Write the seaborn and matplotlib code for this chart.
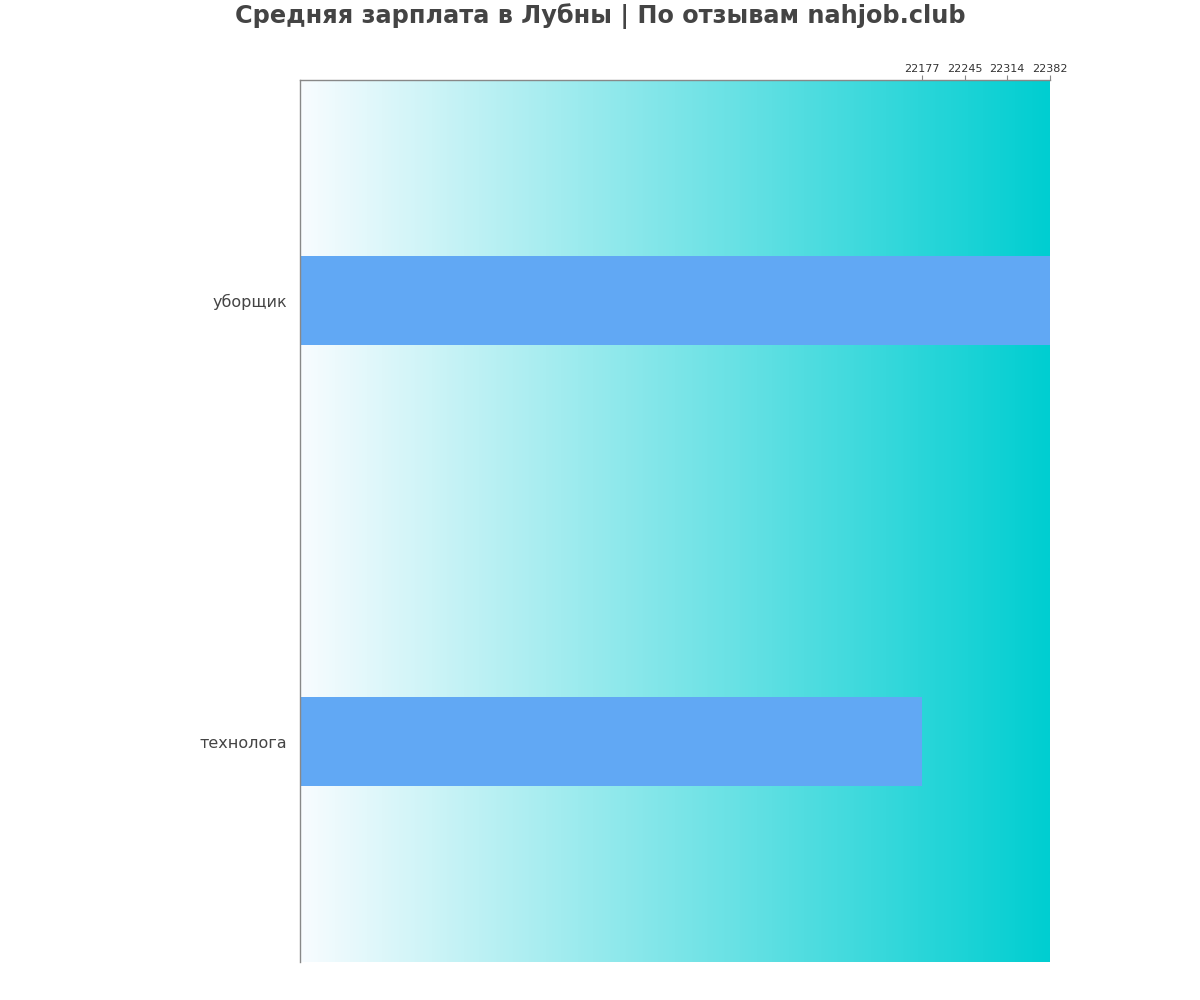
import numpy as np
import pandas as pd
import matplotlib
matplotlib.use("Agg")
import matplotlib.pyplot as plt
from matplotlib.colors import LinearSegmentedColormap
import seaborn as sns

title = "Средняя зарплата в Лубны | По отзывам nahjob.club"
categories = ["уборщик", "технолога"]
salaries = [22382, 22177]

sns.set_style("white")
plt.rcParams['font.family'] = ['DejaVu Sans']

df = pd.DataFrame({"job": categories, "salary": salaries})

fig = plt.figure(figsize=(12, 10), dpi=100)
ax = fig.add_axes([0.25, 0.038, 0.625, 0.882])

vmin, vmax = min(salaries), max(salaries)
xmin = vmax - (vmax - vmin) * 1200 / 205
ax.set_xlim(xmin, vmax)

cmap = LinearSegmentedColormap.from_list("bg", ["#F8FCFF", "#00CED1"])
grad = np.linspace(0, 1, 512).reshape(1, -1)
ax.imshow(grad, aspect="auto", cmap=cmap, extent=[xmin, vmax, 1.5, -0.5], zorder=0)

sns.barplot(data=df, x="salary", y="job", orient="h", color="#61A8F4",
            saturation=1, width=0.2, ax=ax, zorder=2, linewidth=0, edgecolor="none")
ax.set_xlim(xmin, vmax)
ax.set_ylim(1.5, -0.5)

ticks = np.linspace(vmin, vmax, 4)
ax.set_xticks(ticks)
ax.set_xticklabels([f"{t:.0f}" for t in ticks], fontsize=8, color="#333333")
ax.xaxis.tick_top()
ax.tick_params(axis="x", length=3.5, color="#888888", pad=0.8, bottom=False, top=True)
ax.tick_params(axis="y", length=0, labelsize=11.5, labelcolor="#444444", pad=9)
ax.set_xlabel("")
ax.set_ylabel("")
for lbl in ax.get_yticklabels():
    lbl.set_verticalalignment("center_baseline")

for s in ["right", "bottom"]:
    ax.spines[s].set_visible(False)
for s in ["left", "top"]:
    ax.spines[s].set_color("#888888")
    ax.spines[s].set_linewidth(1)

fig.suptitle(title, fontsize=17.3, fontweight="bold", color="#444444", y=0.997)

fig.savefig("out.png", dpi=100)
